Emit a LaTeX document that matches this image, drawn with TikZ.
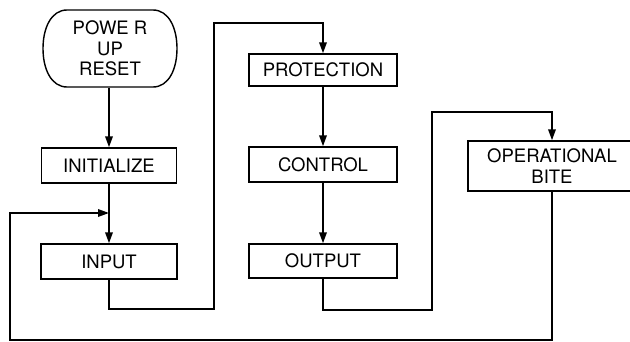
\documentclass[tikz,border=0pt]{standalone}
\usepackage{fontspec}
\setmainfont{TeX Gyre Heros}
\usetikzlibrary{arrows.meta}
\begin{document}
\begin{tikzpicture}[x=1pt,y=-1pt,
  box/.style={draw=black,line width=1.4pt,inner sep=0pt,align=center,
    font=\fontsize{18.5}{20.5}\selectfont},
  conn/.style={draw=black,line width=1.8pt},
  arr/.style={conn,-{Triangle[length=11pt,width=7.5pt]}}]
\useasboundingbox (0,0) rectangle (630,342);
% terminal
\node[box,draw=none,minimum width=134pt,minimum height=77pt] (term) at (110,48.5) {POWE R\\UP\\RESET};
\draw[line width=1.4pt] (67,10) -- (153,10)
  .. controls (168.5,10) and (177,27.5) .. (177,48.5)
  .. controls (177,69.5) and (168.5,87) .. (153,87)
  -- (67,87)
  .. controls (51.5,87) and (43,69.5) .. (43,48.5)
  .. controls (43,27.5) and (51.5,10) .. (67,10) -- cycle;
\node[box,minimum width=135pt,minimum height=35pt] (init) at (109,165.5) {INITIALIZE};
\node[box,minimum width=136pt,minimum height=35pt] (input) at (109,261.5) {INPUT};
\node[box,minimum width=148pt,minimum height=32pt] (prot) at (323,70) {PROTECTION};
\node[box,minimum width=148pt,minimum height=35pt] (ctrl) at (323,164.5) {CONTROL};
\node[box,minimum width=148pt,minimum height=34pt] (out) at (323,261) {OUTPUT};
\node[box,minimum width=168pt,minimum height=50pt] (bite) at (552,166) {OPERATIONAL\\BITE};
% corner coordinates
\coordinate (a1) at (214,309);
\coordinate (a2) at (214,23);
\coordinate (b1) at (432,310);
\coordinate (b2) at (432,112);
\coordinate (c1) at (10,340);
\coordinate (join) at (109,213);
% connectors
\draw[arr] (term.south -| init.north) -- (init.north);
\draw[arr] (init.south) -- (input.north);
\draw[arr] (prot.south) -- (ctrl.north);
\draw[arr] (ctrl.south) -- (out.north);
\draw[arr] (input.south) |- (a1) -- (a2) -| (prot.north);
\draw[arr] (out.south) |- (b1) -- (b2) -| (bite.north);
\draw[arr] (bite.south) |- (c1) |- (join);
\end{tikzpicture}
\end{document}
